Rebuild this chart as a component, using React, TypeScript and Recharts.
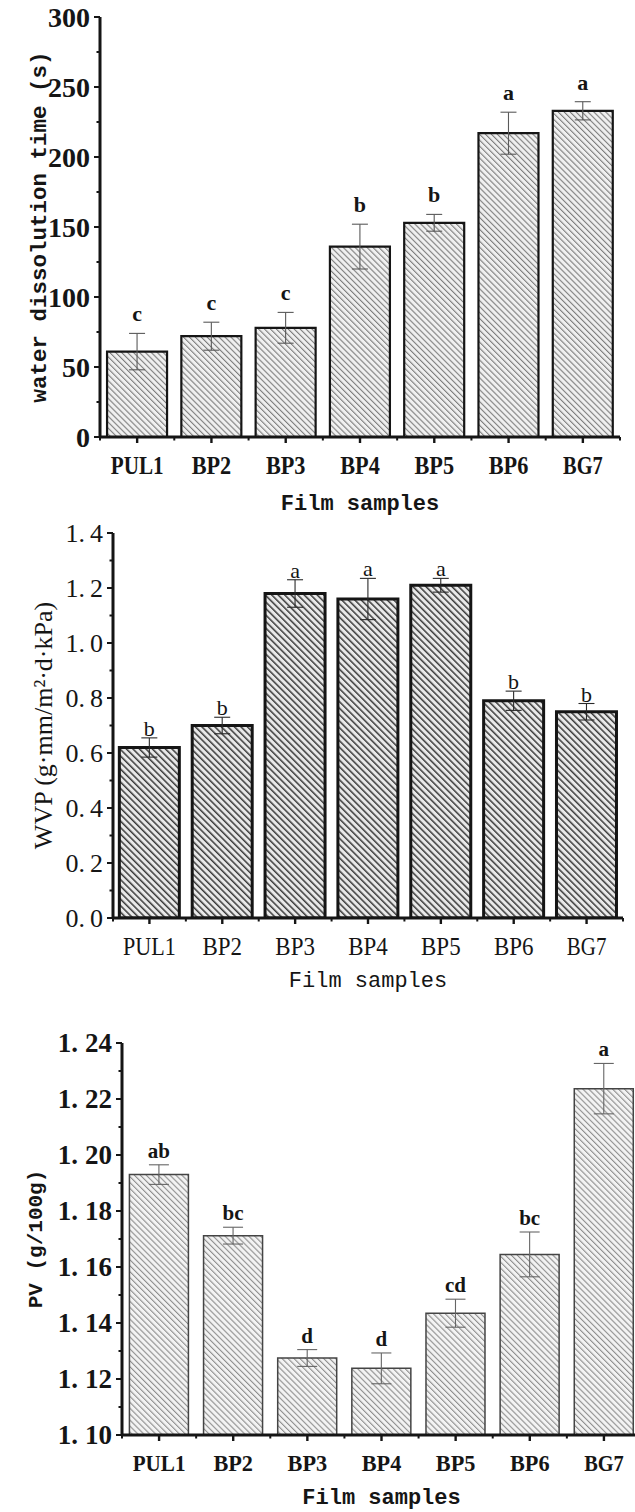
import type { ReactNode } from 'react';
import { BarChart, Bar, XAxis, YAxis, ErrorBar, LabelList, Label } from 'recharts';

const SERIF = "'Liberation Serif', 'Times New Roman', serif";
const MONO = "'Liberation Mono', 'DejaVu Sans Mono', monospace";
const INK = '#151515';

const samples = ['PUL1', 'BP2', 'BP3', 'BP4', 'BP5', 'BP6', 'BG7'];

// water dissolution time (s)
const dissolutionTime = [61, 72, 78, 136, 153, 217, 233];
const dissolutionErr = [13, 10, 11, 16, 6, 15, 6.5];
const dissolutionGroups = ['c', 'c', 'c', 'b', 'b', 'a', 'a'];
const dissolutionTicks = [0, 25, 50, 75, 100, 125, 150, 175, 200, 225, 250, 275, 300];

// WVP (g·mm/m²·d·kPa)
const wvp = [0.62, 0.7, 1.18, 1.16, 1.21, 0.79, 0.75];
const wvpErr = [0.035, 0.03, 0.05, 0.075, 0.025, 0.035, 0.03];
const wvpGroups = ['b', 'b', 'a', 'a', 'a', 'b', 'b'];
const wvpTicks = [0, 0.1, 0.2, 0.3, 0.4, 0.5, 0.6, 0.7, 0.8, 0.9, 1.0, 1.1, 1.2, 1.3, 1.4];

// PV (g/100g)
const pv = [1.193, 1.1712, 1.1275, 1.1238, 1.1435, 1.1645, 1.2237];
const pvErr = [0.0035, 0.003, 0.003, 0.0055, 0.005, 0.008, 0.009];
const pvGroups = ['ab', 'bc', 'd', 'd', 'cd', 'bc', 'a'];
const pvTicks = [1.1, 1.11, 1.12, 1.13, 1.14, 1.15, 1.16, 1.17, 1.18, 1.19, 1.2, 1.21, 1.22, 1.23, 1.24];

type Row = { name: string; value: number; err: number; group: string };

const toRows = (values: number[], errors: number[], groups: string[]): Row[] =>
  samples.map((name, i) => ({ name, value: values[i], err: errors[i], group: groups[i] }));

interface Look {
  bold: boolean;
  hatch: { id: string; size: number; bg: string; line: string; lineWidth: number };
  barStroke: string;
  barStrokeWidth: number;
  errStroke: string;
  capWidth: number;
  frameWidth: number;
  frameRight: boolean;
  gap: string;
  letterGap: number;
  letterSize: number;
  tickFontSize: number;
  xFontSize: number;
  decimalGap: number;
}

const YTick = ({ x, y, payload, isMajor, decimals, look }: any) => {
  const v = Number(payload.value);
  const major = isMajor(v);
  const [intPart, decPart] = v.toFixed(decimals).split('.');
  return (
    <g>
      <line x1={x} y1={y} x2={x - (major ? 6 : 3.5)} y2={y} stroke={INK} strokeWidth={2} />
      {major && (
        <text
          x={x - 10}
          y={y}
          textAnchor="end"
          dominantBaseline="central"
          fontFamily={SERIF}
          fontSize={look.tickFontSize}
          fontWeight={look.bold ? 700 : 400}
          fill={INK}
        >
          {decPart === undefined ? (
            intPart
          ) : (
            <>
              <tspan>{intPart}.</tspan>
              <tspan dx={look.decimalGap}>{decPart}</tspan>
            </>
          )}
        </text>
      )}
    </g>
  );
};

const XTick = ({ x, y, payload, index, look, count, half }: any) => {
  const h = payload?.offset || half;
  const label = String(payload.value);
  return (
    <g>
      <line x1={x} y1={y} x2={x} y2={y + 6} stroke={INK} strokeWidth={2.4} />
      <line x1={x - h} y1={y} x2={x - h} y2={y + 3.5} stroke={INK} strokeWidth={2} />
      {index === count - 1 && (
        <line x1={x + h} y1={y} x2={x + h} y2={y + 3.5} stroke={INK} strokeWidth={2} />
      )}
      <text
        x={x}
        y={y + 28}
        textAnchor="middle"
        dominantBaseline="central"
        fontFamily={SERIF}
        fontSize={look.xFontSize}
        fontWeight={look.bold ? 700 : 400}
        fill={INK}
        textLength={label.length * 13.2}
        lengthAdjust="spacingAndGlyphs"
      >
        {label}
      </text>
    </g>
  );
};

const GroupLetter = (props: any) => {
  const { rows, min, look, index, value } = props;
  const vb = props.viewBox ?? props;
  const row: Row = rows[index];
  if (!row || vb.height === undefined) return null;
  const perUnit = vb.height / (row.value - min);
  const errTop = vb.y - row.err * perUnit;
  return (
    <text
      x={vb.x + vb.width / 2}
      y={errTop - look.letterGap}
      textAnchor="middle"
      fontFamily={SERIF}
      fontSize={look.letterSize}
      fontWeight={look.bold ? 700 : 400}
      fill={INK}
    >
      {value}
    </text>
  );
};

interface PanelProps {
  rows: Row[];
  top: number;
  width: number;
  height: number;
  margin: { top: number; right: number; bottom: number; left: number };
  yWidth: number;
  domain: [number, number];
  ticks: number[];
  isMajor: (v: number) => boolean;
  decimals: number;
  yTitle: string;
  yTitleOffset: number;
  yTitleFont: { family: string; size: number; weight: number };
  titleOffset: number;
  look: Look;
}

const FilmPanel = ({
  rows,
  top,
  width,
  height,
  margin,
  yWidth,
  domain,
  ticks,
  isMajor,
  decimals,
  yTitle,
  yTitleOffset,
  yTitleFont,
  titleOffset,
  look,
}: PanelProps) => {
  const plotWidth = width - margin.left - margin.right - yWidth;
  const half = plotWidth / rows.length / 2;
  const weight = look.bold ? 700 : 400;
  const axisLine = { stroke: INK, strokeWidth: 3 };
  const frameLine = { stroke: INK, strokeWidth: look.frameWidth };
  const { hatch } = look;
  return (
    <div style={{ position: 'absolute', left: 0, top }}>
      <BarChart width={width} height={height} data={rows} margin={margin} barCategoryGap={look.gap}>
        <defs>
          <pattern
            id={hatch.id}
            width={hatch.size}
            height={hatch.size}
            patternUnits="userSpaceOnUse"
            patternTransform="rotate(-45)"
          >
            <rect width={hatch.size} height={hatch.size} fill={hatch.bg} />
            <rect width={hatch.lineWidth} height={hatch.size} fill={hatch.line} />
          </pattern>
        </defs>
        <XAxis
          dataKey="name"
          height={76}
          interval={0}
          tickSize={0}
          tickMargin={0}
          tickLine={false}
          axisLine={axisLine}
          tick={(p: any) => <XTick {...p} look={look} count={rows.length} half={half} />}
        >
          <Label
            value="Film samples"
            position="insideBottom"
            offset={titleOffset}
            fill={INK}
            fontFamily={MONO}
            fontSize={22}
            fontWeight={weight}
          />
        </XAxis>
        <XAxis
          xAxisId="frameTop"
          orientation="top"
          dataKey="name"
          height={0}
          tick={false}
          tickLine={false}
          axisLine={frameLine}
        />
        <YAxis
          type="number"
          domain={domain}
          ticks={ticks}
          allowDataOverflow
          width={yWidth}
          interval={0}
          tickSize={0}
          tickMargin={0}
          tickLine={false}
          axisLine={axisLine}
          tick={(p: any) => <YTick {...p} isMajor={isMajor} decimals={decimals} look={look} />}
        >
          <Label
            value={yTitle}
            angle={-90}
            position="insideLeft"
            offset={yTitleOffset}
            style={{ textAnchor: 'middle' }}
            fill={INK}
            fontFamily={yTitleFont.family}
            fontSize={yTitleFont.size}
            fontWeight={yTitleFont.weight}
          />
        </YAxis>
        {look.frameRight && (
          <YAxis
            yAxisId="frameRight"
            orientation="right"
            type="number"
            domain={domain}
            allowDataOverflow
            width={0}
            tick={false}
            tickLine={false}
            axisLine={frameLine}
          />
        )}
        <Bar
          dataKey="value"
          fill={`url(#${hatch.id})`}
          stroke={look.barStroke}
          strokeWidth={look.barStrokeWidth}
          isAnimationActive={false}
        >
          <ErrorBar dataKey="err" direction="y" width={look.capWidth} stroke={look.errStroke} strokeWidth={1.1} />
          <LabelList
            dataKey="group"
            content={(p: any) => <GroupLetter {...p} rows={rows} min={domain[0]} look={look} />}
          />
        </Bar>
      </BarChart>
    </div>
  );
};

export default function App(): ReactNode {
  return (
    <div
      style={{
        position: 'absolute',
        left: 0,
        top: 0,
        width: 635,
        height: 1512,
        overflow: 'hidden',
        background: '#fff',
      }}
    >
      <FilmPanel
        rows={toRows(dissolutionTime, dissolutionErr, dissolutionGroups)}
        top={0}
        width={635}
        height={520}
        margin={{ top: 17, right: 15, bottom: 7, left: 10 }}
        yWidth={90}
        domain={[0, 300]}
        ticks={dissolutionTicks}
        isMajor={(v) => v % 50 === 0}
        decimals={0}
        yTitle="water dissolution time (s)"
        yTitleOffset={28}
        yTitleFont={{ family: MONO, size: 22.5, weight: 700 }}
        titleOffset={3}
        look={{
          bold: true,
          hatch: { id: 'hatchDissolution', size: 4.2, bg: '#f0f0f0', line: '#7d7d7d', lineWidth: 1.1 },
          barStroke: INK,
          barStrokeWidth: 2.2,
          errStroke: '#5a5a5a',
          capWidth: 8,
          frameWidth: 2.2,
          frameRight: true,
          gap: '9.5%',
          letterGap: 12,
          letterSize: 22,
          tickFontSize: 28,
          xFontSize: 26,
          decimalGap: 0,
        }}
      />
      <FilmPanel
        rows={toRows(wvp, wvpErr, wvpGroups)}
        top={500}
        width={635}
        height={500}
        margin={{ top: 33, right: 12, bottom: 6, left: 23 }}
        yWidth={90}
        domain={[0, 1.4]}
        ticks={wvpTicks}
        isMajor={(v) => Math.round(v * 10) % 2 === 0}
        decimals={1}
        yTitle="WVP (g·mm/m²·d·kPa)"
        yTitleOffset={20}
        yTitleFont={{ family: SERIF, size: 26, weight: 400 }}
        titleOffset={7}
        look={{
          bold: false,
          hatch: { id: 'hatchWvp', size: 4.6, bg: '#e9e9e9', line: '#3a3a3a', lineWidth: 1.5 },
          barStroke: INK,
          barStrokeWidth: 3,
          errStroke: '#2a2a2a',
          capWidth: 8,
          frameWidth: 2.6,
          frameRight: true,
          gap: '8.7%',
          letterGap: 2,
          letterSize: 22,
          tickFontSize: 26,
          xFontSize: 26,
          decimalGap: 5,
        }}
      />
      <FilmPanel
        rows={toRows(pv, pvErr, pvGroups)}
        top={1000}
        width={660}
        height={512}
        margin={{ top: 43, right: 19, bottom: 1, left: 22 }}
        yWidth={100}
        domain={[1.1, 1.24]}
        ticks={pvTicks}
        isMajor={(v) => Math.round(v * 100) % 2 === 0}
        decimals={2}
        yTitle="PV (g/100g)"
        yTitleOffset={13}
        yTitleFont={{ family: MONO, size: 21, weight: 700 }}
        titleOffset={7}
        look={{
          bold: true,
          hatch: { id: 'hatchPv', size: 4.2, bg: '#f3f3f3', line: '#8e8e8e', lineWidth: 1.1 },
          barStroke: '#444',
          barStrokeWidth: 1.5,
          errStroke: '#666',
          capWidth: 10,
          frameWidth: 3,
          frameRight: false,
          gap: '10%',
          letterGap: 7,
          letterSize: 21,
          tickFontSize: 27,
          xFontSize: 24,
          decimalGap: 7,
        }}
      />
    </div>
  );
}
